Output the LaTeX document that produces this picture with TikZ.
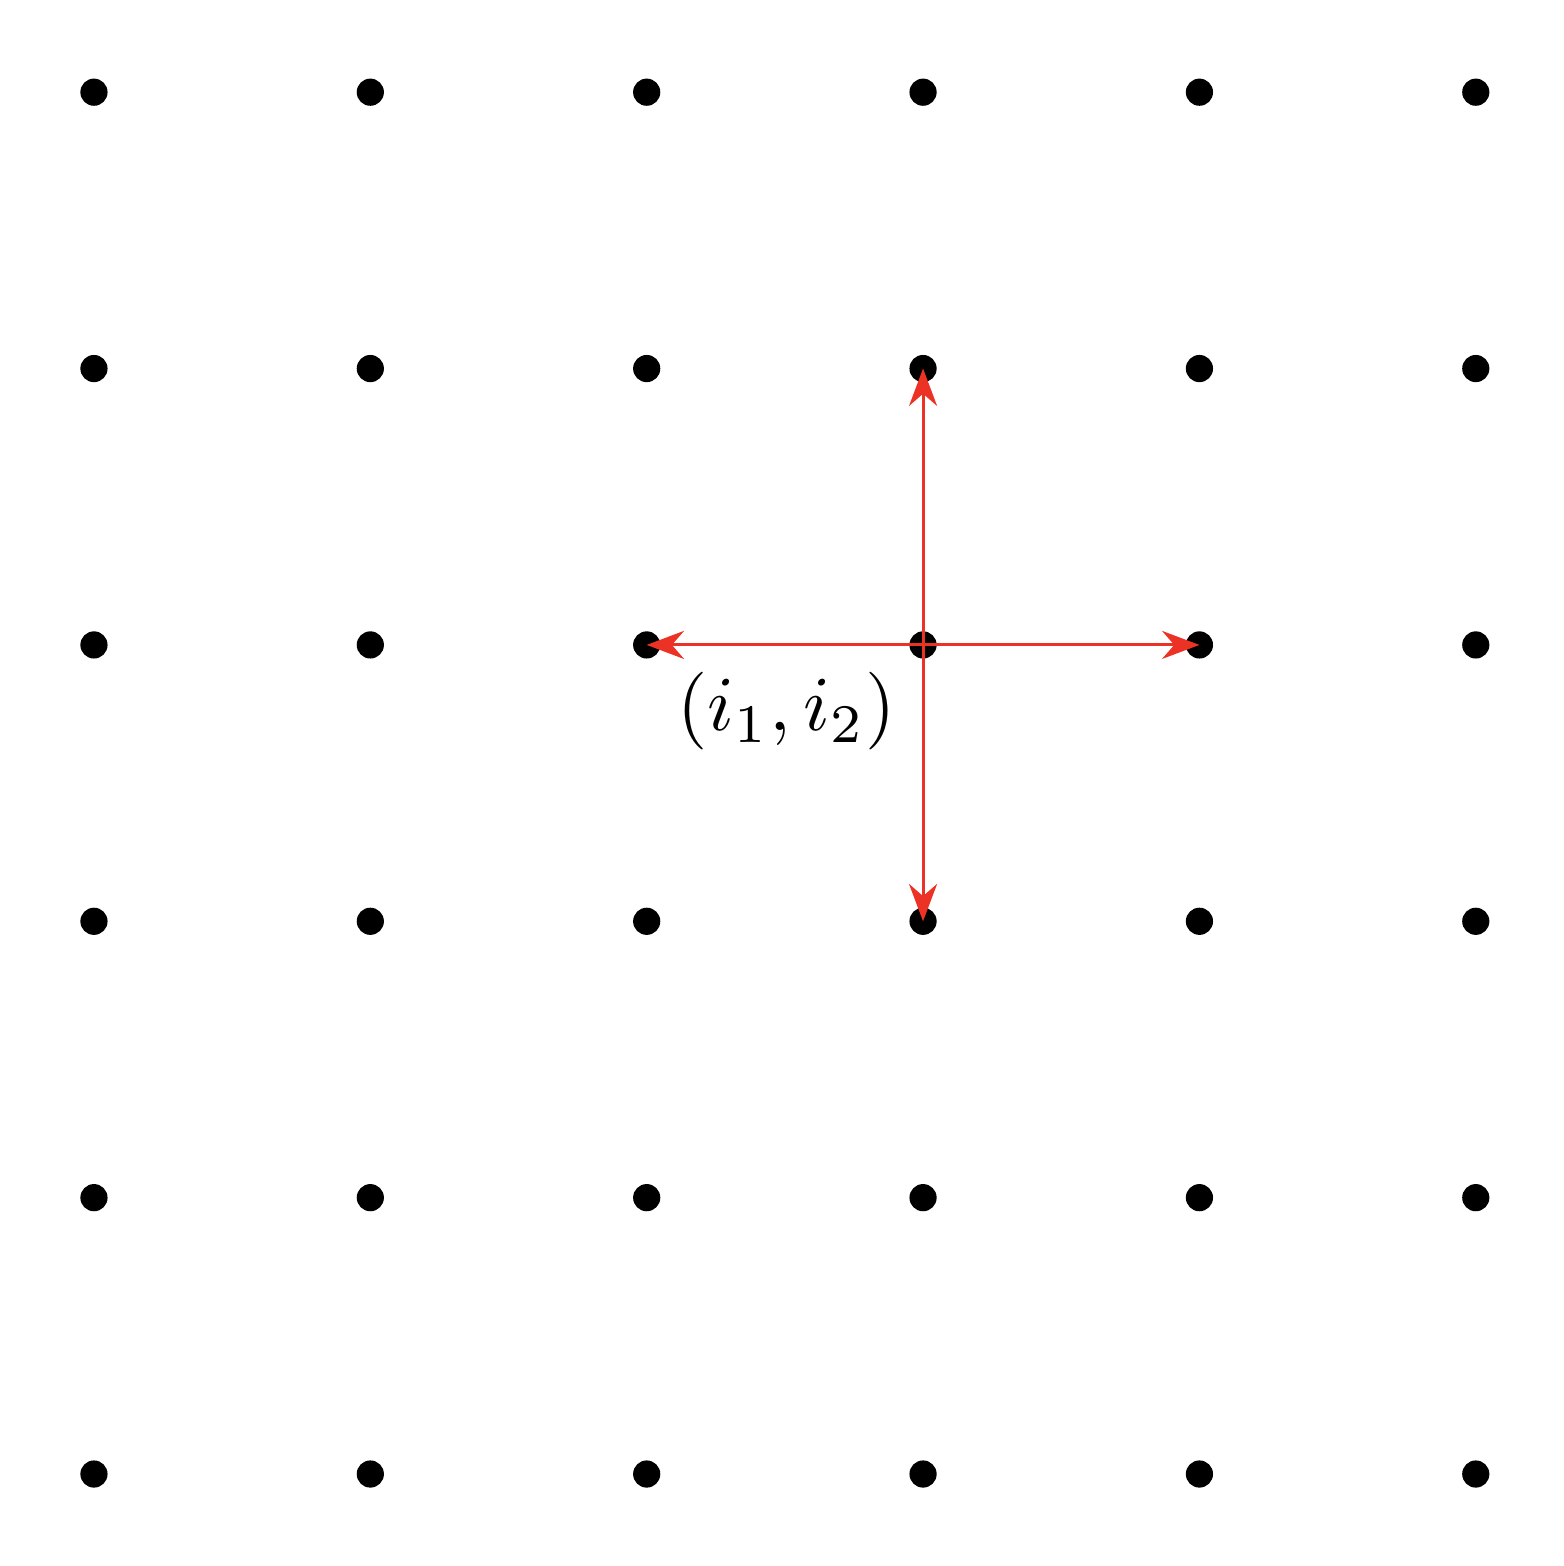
\documentclass[tikz,border=0pt]{standalone}
\usepackage{amsmath, amssymb}
\usepackage{tikz}
\usetikzlibrary{arrows.meta, positioning}
\definecolor{hopRed}{RGB}{236,50,36}

\begin{document}
\begin{tikzpicture}[
  site/.style={circle, fill=black, inner sep=0pt, minimum size=3.5pt},
  hop/.style={-{Stealth}, hopRed, line width=0.4pt},
]
  \useasboundingbox (-0.425,-0.416) rectangle (6.649,6.667);
  % lattice sites
  \foreach \i in {0,...,5}
    \foreach \j in {0,...,5}
      \node[site] (p-\i-\j) at (1.25*\i,1.25*\j) {};

  \draw[hop] (p-3-3.center) -- (p-2-3.center);
  \draw[hop] (p-3-3.center) -- (p-4-3.center);
  \draw[hop] (p-3-3.center) -- (p-3-4.center);
  \draw[hop] (p-3-3.center) -- (p-3-2.center);

  \node[below left=0pt of p-3-3.center] (lbl) {$(i_1,i_2)$};
\end{tikzpicture}
\end{document}
